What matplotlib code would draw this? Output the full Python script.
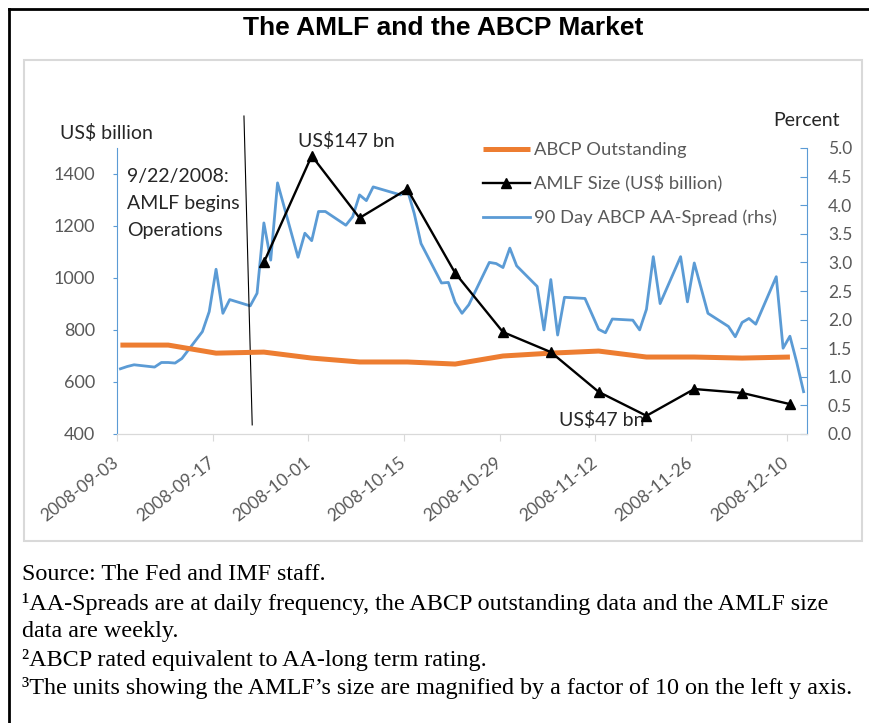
import numpy as np
import matplotlib
matplotlib.use("Agg")
import matplotlib.pyplot as plt
import matplotlib.dates as mdates
from matplotlib.patches import Rectangle
from matplotlib.lines import Line2D

# weekly series (Wednesdays)
weekly_dates = np.array(['2008-09-03', '2008-09-10', '2008-09-17', '2008-09-24',
                         '2008-10-01', '2008-10-08', '2008-10-15', '2008-10-22',
                         '2008-10-29', '2008-11-05', '2008-11-12', '2008-11-19',
                         '2008-11-26', '2008-12-03', '2008-12-10'], dtype='datetime64[D]')
abcp_outstanding = [742, 742, 711, 715, 692, 677, 677, 669, 700, 711, 719, 696, 696, 692, 696]

amlf_dates = weekly_dates[3:]
amlf_size = [1060, 1470, 1231, 1342, 1019, 792, 715, 562, 470, 573, 558, 515]  # x10

# daily 90 day ABCP AA spread (percent)
spread_dates = np.array([
    '2008-09-03', '2008-09-04', '2008-09-05', '2008-09-08', '2008-09-09', '2008-09-10',
    '2008-09-11', '2008-09-12', '2008-09-15', '2008-09-16', '2008-09-17', '2008-09-18',
    '2008-09-19', '2008-09-22', '2008-09-23', '2008-09-24', '2008-09-25', '2008-09-26',
    '2008-09-29', '2008-09-30', '2008-10-01', '2008-10-02', '2008-10-03', '2008-10-06',
    '2008-10-07', '2008-10-08', '2008-10-09', '2008-10-10', '2008-10-14', '2008-10-15',
    '2008-10-16', '2008-10-17', '2008-10-20', '2008-10-21', '2008-10-22', '2008-10-23',
    '2008-10-24', '2008-10-27', '2008-10-28', '2008-10-29', '2008-10-30', '2008-10-31',
    '2008-11-03', '2008-11-04', '2008-11-05', '2008-11-06', '2008-11-07', '2008-11-10',
    '2008-11-12', '2008-11-13', '2008-11-14', '2008-11-17', '2008-11-18', '2008-11-19',
    '2008-11-20', '2008-11-21', '2008-11-24', '2008-11-25', '2008-11-26', '2008-11-28',
    '2008-12-01', '2008-12-02', '2008-12-03', '2008-12-04', '2008-12-05', '2008-12-08',
    '2008-12-09', '2008-12-10', '2008-12-11', '2008-12-12'], dtype='datetime64[D]')
aa_spread = [1.14, 1.18, 1.21, 1.17, 1.25, 1.25,
             1.24, 1.32, 1.79, 2.14, 2.88, 2.11,
             2.35, 2.24, 2.46, 3.69, 3.04, 4.39,
             3.09, 3.51, 3.38, 3.89, 3.89, 3.65,
             3.80, 4.18, 4.08, 4.32, 4.18, 4.27,
             3.86, 3.33, 2.64, 2.65, 2.30, 2.11,
             2.26, 3.00, 2.98, 2.91, 3.25, 2.94,
             2.58, 1.82, 2.70, 1.73, 2.39, 2.37,
             1.83, 1.77, 2.01, 1.99, 1.82, 2.18,
             3.10, 2.28, 3.10, 2.31, 2.99, 2.11,
             1.88, 1.70, 1.95, 2.02, 1.92, 2.75,
             1.50, 1.71, 1.25, 0.74]

event_date = np.datetime64('2008-09-22')
tick_dates = np.arange(np.datetime64('2008-09-03'), np.datetime64('2008-12-11'), 14)

ORANGE = '#ED7D31'
BLUE = '#5B9BD5'
GREY = '#595959'
TXT = '#262626'
W, H = 870, 723

plt.rcParams['font.family'] = ['Lato', 'DejaVu Sans']
fig = plt.figure(figsize=(W / 100, H / 100), dpi=100)

def fx(px):
    return px / W

def fy(py):
    return 1 - py / H

# frame lines and chart box
fig.add_artist(Line2D([fx(9), 1], [fy(9), fy(9)], color='black', lw=2))
fig.add_artist(Line2D([fx(9), fx(9)], [fy(9), 0], color='black', lw=2))
fig.add_artist(Rectangle((fx(24), fy(541)), fx(862) - fx(24), fy(60) - fy(541),
                         fill=False, edgecolor='#D9D9D9', lw=1.5))

fig.text(fx(443), fy(28), 'The AMLF and the ABCP Market', ha='center', va='center',
         family='Liberation Sans', fontweight='bold', fontsize=19)

ax = fig.add_axes([fx(117), fy(434), fx(807) - fx(117), fy(148) - fy(434)])
ax2 = ax.twinx()

half = np.timedelta64(12, 'h')
ax.plot(weekly_dates + half, abcp_outstanding, color=ORANGE, lw=3.6,
        solid_capstyle='butt', label='ABCP Outstanding', zorder=2)
ax.plot(amlf_dates + half, amlf_size, color='black', lw=1.7, marker='^', ms=7.5,
        label='AMLF Size (US$ billion)', zorder=4)
ax2.plot(spread_dates + half, aa_spread, color=BLUE, lw=2.0,
         label='90 Day ABCP AA-Spread (rhs)', zorder=3)

ax.set_zorder(ax2.get_zorder() + 1)
ax.patch.set_visible(False)

ax.set_xlim(np.datetime64('2008-09-03'), np.datetime64('2008-12-13'))
ax.set_ylim(400, 1500)
ax.set_yticks(np.arange(400, 1401, 200))
ax2.set_ylim(0, 5)
ax2.set_yticks(np.arange(0, 5.01, 0.5))
ax2.yaxis.set_major_formatter(matplotlib.ticker.FormatStrFormatter('%.1f'))

ax.set_xticks(tick_dates)
ax.xaxis.set_major_formatter(mdates.DateFormatter('%Y-%m-%d'))
for lab in ax.get_xticklabels():
    lab.set_rotation(38)
    lab.set_ha('right')
    lab.set_va('center')
    lab.set_rotation_mode('anchor')

for a in (ax, ax2):
    a.spines['top'].set_visible(False)
    a.spines['bottom'].set_color('#D9D9D9')
ax.spines['right'].set_visible(False)
ax2.spines['left'].set_visible(False)
ax.spines['left'].set_color(BLUE)
ax2.spines['right'].set_color(BLUE)
ax.tick_params(axis='y', colors=BLUE, labelcolor=GREY, labelsize=13,
               direction='out', length=3, pad=13)
ax.tick_params(axis='x', colors='#D9D9D9', labelcolor=GREY, labelsize=12.5,
               direction='out', length=5, pad=14)
ax2.tick_params(axis='y', colors=BLUE, labelcolor=GREY, labelsize=12.5,
                direction='in', length=5, pad=15)

fig.text(fx(60), fy(133), 'US$ billion', ha='left', va='center', fontsize=14, color=TXT)
fig.text(fx(840), fy(120), 'Percent', ha='right', va='center', fontsize=14, color=TXT)

# event line and annotations
hour = np.timedelta64(1, 'h')
ax.plot([event_date - 10 * hour, event_date + 19 * hour], [1623, 435],
        color='black', lw=0.8, clip_on=False, zorder=1)
ax.text(0.015, 0.93, '9/22/2008:\nAMLF begins\nOperations', transform=ax.transAxes,
        ha='left', va='top', fontsize=14, color=TXT, linespacing=1.7)

i_max = int(np.argmax(amlf_size))
i_min = int(np.argmin(amlf_size))
ax.annotate('US$147 bn', xy=(amlf_dates[i_max] + half, amlf_size[i_max]),
            xytext=(25, 11), textcoords='offset points', ha='center', va='center',
            fontsize=14, color=TXT)
ax.annotate('US$47 bn', xy=(amlf_dates[i_min] + half, amlf_size[i_min]),
            xytext=(-32, -3), textcoords='offset points', ha='center', va='center',
            fontsize=14, color=TXT)

handles = ax.get_lines()[:2] + ax2.get_lines()
leg = fig.legend(handles, [h.get_label() for h in handles], loc='upper left',
                 bbox_to_anchor=(fx(483), fy(142)), frameon=False, fontsize=13.2,
                 handlelength=2.55, handletextpad=0.25, labelspacing=0.95,
                 borderpad=0, borderaxespad=0, numpoints=1)
for t in leg.get_texts():
    t.set_color(GREY)

# footnotes
notes = ['Source: The Fed and IMF staff.',
         '\u00b9AA-Spreads are at daily frequency, the ABCP outstanding data and the AMLF size',
         'data are weekly.',
         '\u00b2ABCP rated equivalent to AA-long term rating.',
         '\u00b3The units showing the AMLF\u2019s size are magnified by a factor of 10 on the left y axis.']
note_y = [575, 604, 631, 660, 688]
for txt, yy in zip(notes, note_y):
    fig.text(fx(22), fy(yy), txt, ha='left', va='center', family='Liberation Serif',
             fontsize=17.4, color='black')

fig.savefig('out.png', dpi=100)
